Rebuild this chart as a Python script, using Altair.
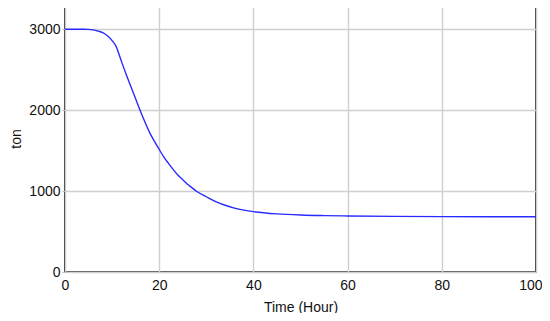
import altair as alt
import pandas as pd

hours = [0, 2, 4, 5, 6, 7, 8, 9, 10, 11, 11.3, 12, 13, 14, 15, 16, 17, 18, 19, 20,
         21, 22, 23, 24, 25, 26, 27, 28, 30, 32, 34, 36, 38, 40, 45, 50, 55, 60,
         70, 80, 90, 100]
tons = [3000, 3000, 3000, 2999, 2992, 2978, 2958, 2920, 2860, 2770, 2720, 2600,
        2440, 2290, 2140, 1990, 1850, 1720, 1615, 1515, 1420, 1340, 1265, 1195,
        1140, 1085, 1040, 995, 930, 870, 825, 790, 765, 746, 718, 704, 697, 693,
        688, 685, 683, 682]

x_ticks = [0, 20, 40, 60, 80, 100]
y_ticks = [0, 1000, 2000, 3000]

df = pd.DataFrame({"hour": hours, "ton": tons})

FONT = "Liberation Sans"

chart = alt.Chart(df).mark_line(color="#2a2aff", strokeWidth=1.4, interpolate="monotone").encode(
    x=alt.X("hour:Q", title="Time (Hour)",
            scale=alt.Scale(domain=[0, 100], nice=False, zero=False),
            axis=alt.Axis(values=x_ticks, format="d", labelPadding=6, titlePadding=8,
                          ticks=False, labelFlush=False,
                          labelAlign={"condition": {"test": "datum.value == 100", "value": "right"},
                                      "value": "center"},
                          labelOffset={"condition": {"test": "datum.value == 100", "value": 6},
                                       "value": 0})),
    y=alt.Y("ton:Q", title="ton",
            scale=alt.Scale(domain=[0, 3300], nice=False),
            axis=alt.Axis(values=y_ticks, format="d", labelPadding=2, tickSize=3,
                          titlePadding=5)),
).properties(
    width=471,
    height=267,
    autosize=alt.AutoSizeParams(type="none"),
    padding={"left": 57, "top": -3, "right": 6, "bottom": 41},
).configure_view(
    stroke="#111111", strokeWidth=1.7
).configure_axis(
    grid=True, gridColor="#cfcfcf", gridWidth=1.4,
    domain=False, tickColor="#bbbbbb",
    labelFont=FONT, titleFont=FONT, labelFontSize=14, titleFontSize=14,
    labelColor="#111", titleColor="#111", titleFontWeight="normal",
)

chart.save("out.html", embed_options={"renderer": "svg", "actions": False})
